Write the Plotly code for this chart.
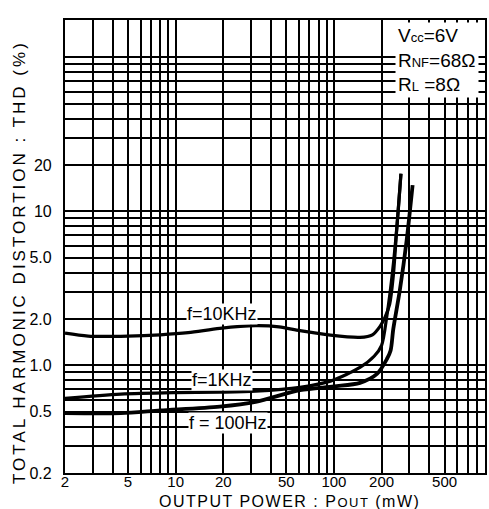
import plotly.graph_objects as go
import numpy as np

# Data (Output power mW, THD %)
p_10k = [2, 2.8, 5, 8, 12, 19, 32, 45, 61, 95, 146, 175, 196, 210, 225, 237, 250, 265]
thd_10k = [1.62, 1.55, 1.55, 1.58, 1.63, 1.74, 1.81, 1.78, 1.68, 1.57, 1.52, 1.58, 1.8, 2.05, 2.5, 3.8, 8.0, 17.5]

p_1k = [2, 4.5, 10, 19, 32, 61, 95, 146, 180, 200, 216, 234, 251, 265]
thd_1k = [0.61, 0.65, 0.665, 0.67, 0.68, 0.72, 0.79, 0.97, 1.15, 1.35, 2.1, 3.98, 8.4, 17.6]

p_100 = [2, 4.5, 8, 19, 32, 61, 100, 146, 187, 216, 228, 237, 261, 288, 314]
thd_100 = [0.49, 0.49, 0.51, 0.54, 0.58, 0.69, 0.73, 0.77, 0.88, 1.1, 1.25, 1.72, 3.1, 6.5, 14.8]

x_grid = [2, 3, 4, 5, 6, 7, 8, 9, 10, 20, 30, 40, 50, 60, 70, 80, 90, 100,
          200, 300, 400, 500, 600, 700, 800, 900]
x_labels = {2: "2", 5: "5", 10: "10", 20: "20", 50: "50", 100: "100", 200: "200", 500: "500"}
y_grid = [0.2, 0.3, 0.4, 0.5, 0.6, 0.7, 0.8, 0.9, 1, 2, 3, 4, 5, 6, 7, 8, 9, 10,
          20, 30, 40, 50, 60, 70, 80, 90, 100]
y_labels = {0.2: "0.2", 0.5: "0.5", 1: "1.0", 2: "2.0", 5: "5.0", 10: "10", 20: "20"}

FONT = "Liberation Sans"

fig = go.Figure()
for xs, ys, w in [(p_10k, thd_10k, 3.2), (p_1k, thd_1k, 3.2), (p_100, thd_100, 3.8)]:
    fig.add_trace(go.Scatter(x=xs, y=ys, mode="lines",
                             line=dict(color="black", width=w, shape="spline", smoothing=0.8),
                             showlegend=False, hoverinfo="skip"))

fig.update_xaxes(type="log", range=[np.log10(2), np.log10(900)],
                 tickvals=x_grid, ticktext=[x_labels.get(v, "") for v in x_grid],
                 showgrid=True, gridcolor="black", gridwidth=1.6,
                 showline=True, linecolor="black", linewidth=2.2, mirror=True,
                 ticks="", zeroline=False, automargin=False, ticklabelstandoff=-6,
                 tickfont=dict(family=FONT, size=15, color="black"))
fig.update_yaxes(type="log", range=[np.log10(0.2), np.log10(175)],
                 tickvals=y_grid, ticktext=[y_labels.get(v, "") for v in y_grid],
                 showgrid=True, gridcolor="black", gridwidth=1.6,
                 showline=True, linecolor="black", linewidth=2.2, mirror=True,
                 ticks="", zeroline=False, ticklabelstandoff=8, automargin=False,
                 tickfont=dict(family=FONT, size=16, color="black"))

anns = [
    dict(x=np.log10(19.6), y=np.log10(2.16), text="f=10KHz"),
    dict(x=np.log10(19.6), y=np.log10(0.80), text="f=1KHz"),
    dict(x=np.log10(21.4), y=np.log10(0.42), text="f = 100Hz"),
]
for a in anns:
    fig.add_annotation(x=a["x"], y=a["y"], xref="x", yref="y", text=a["text"],
                       showarrow=False, bgcolor="white", borderpad=0,
                       font=dict(family=FONT, size=18, color="black"))

small = "<span style='font-size:13px'>"
box = ("V" + small + "cc</span>=6V<br>"
       "R" + small + "NF</span>=68Ω<br>"
       "R" + small + "L</span> =8Ω")
fig.add_annotation(x=0.985, y=0.995, xref="paper", yref="paper", xanchor="right", yanchor="top",
                   text=box, showarrow=False, align="left", bgcolor="white", borderpad=2,
                   font=dict(family=FONT, size=19, color="black"))

fig.add_annotation(x=-0.107, y=0.466, xref="paper", yref="paper", textangle=-90,
                   xanchor="center", yanchor="middle",
                   text="<span style='letter-spacing:3px'>TOTAL HARMONIC DISTORTION : THD (%)</span>",
                   showarrow=False,
                   font=dict(family=FONT, size=17, color="black"))
fig.add_annotation(x=0.535, y=-0.063, xref="paper", yref="paper",
                   xanchor="center", yanchor="middle",
                   text="<span style='letter-spacing:1.5px'>OUTPUT POWER : P" + small + "OUT</span> (mW)</span>",
                   showarrow=False,
                   font=dict(family=FONT, size=16, color="black"))

fig.update_layout(width=489, height=509, margin=dict(l=65, r=4, t=20, b=36),
                  plot_bgcolor="white", paper_bgcolor="white")

fig.write_html("out.html", config={"displayModeBar": False},
               post_script="document.body.style.margin='0';document.body.style.overflow='hidden';")
